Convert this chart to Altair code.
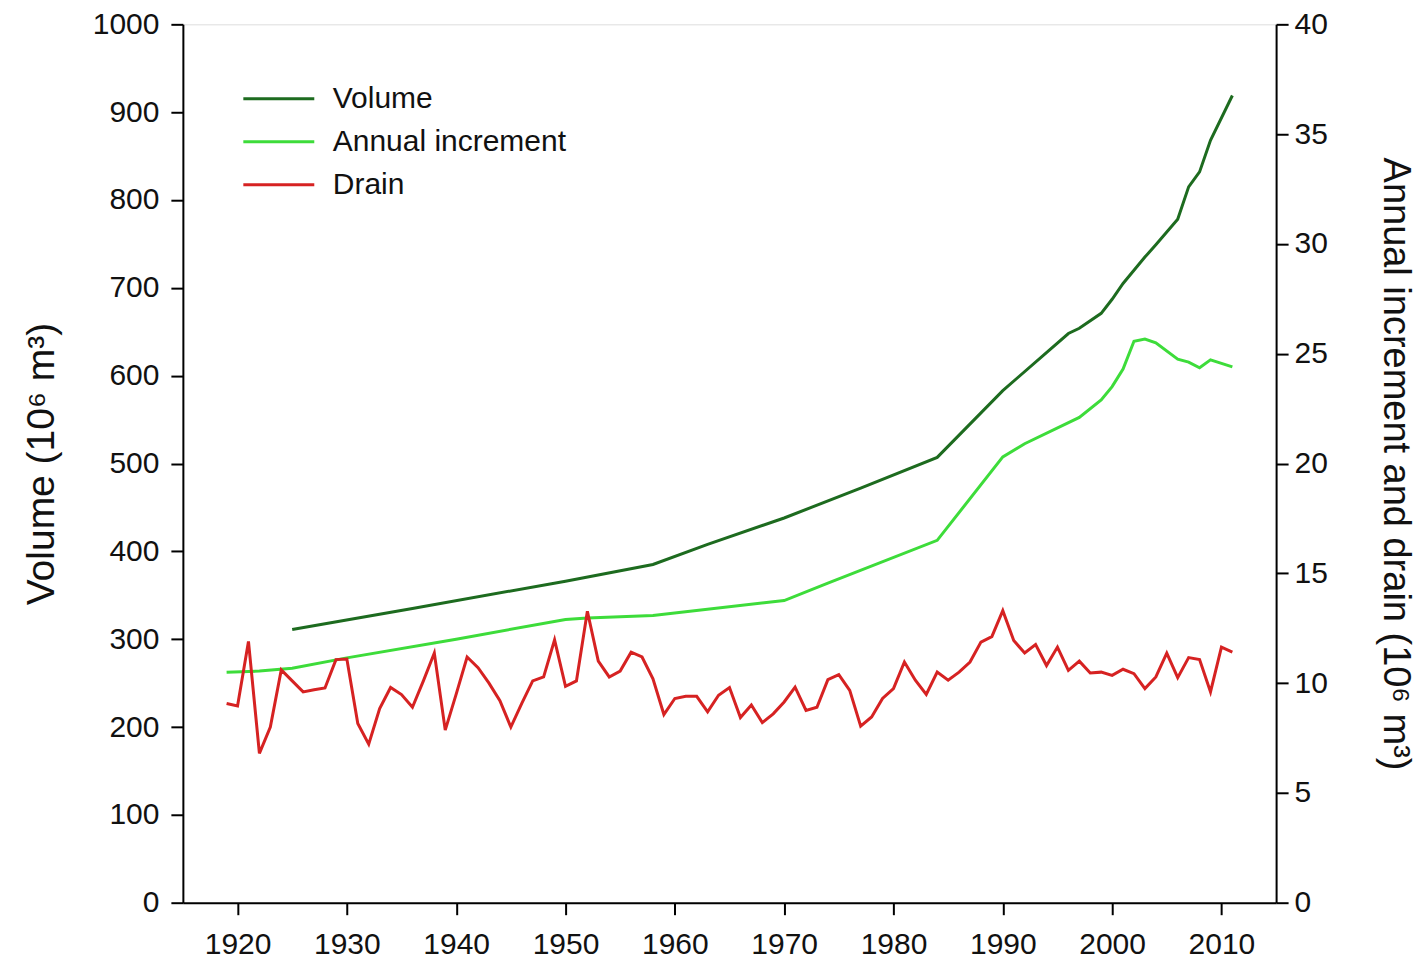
import altair as alt
import pandas as pd

# ---- data ----
drain_years = list(range(1919, 2012))
drain_values = [
    9.07, 8.96, 11.9, 6.8, 8.0, 10.6, 10.1, 9.6, 9.7, 9.78,      # 1919-1928
    11.07, 11.1, 8.16, 7.22, 8.84, 9.8, 9.48, 8.9, 10.1, 11.37,  # 1929-1938
    7.86, 9.5, 11.19, 10.7, 10.0, 9.2, 8.0, 9.08, 10.1, 10.28,   # 1939-1948
    11.97, 9.85, 10.1, 13.27, 11.0, 10.28, 10.55, 11.41, 11.19, 10.2,  # 1949-1958
    8.57, 9.3, 9.4, 9.4, 8.69, 9.45, 9.8, 8.43, 9.0, 8.2,        # 1959-1968
    8.6, 9.14, 9.82, 8.76, 8.9, 10.16, 10.39, 9.67, 8.04, 8.46,  # 1969-1978
    9.3, 9.75, 10.96, 10.13, 9.48, 10.5, 10.13, 10.5, 10.96, 11.87,  # 1979-1988
    12.12, 13.3, 11.94, 11.37, 11.76, 10.8, 11.64, 10.58, 11.0, 10.46,  # 1989-1998
    10.5, 10.35, 10.63, 10.43, 9.75, 10.28, 11.37, 10.25, 11.16, 11.07,  # 1999-2008
    9.6, 11.64, 11.41,                                           # 2009-2011
]

volume_years = [1925, 1936, 1950, 1958, 1963, 1970, 1977, 1984, 1990, 1996,
                1997, 1999, 2000, 2001, 2003, 2004, 2006, 2007, 2008, 2009, 2011]
volume_values = [311, 335, 366, 385, 408, 438, 472, 507, 583, 648,
                 654, 671, 687, 705, 735, 749, 778, 815, 832, 868, 919]

increment_years = [1919, 1922, 1925, 1930, 1940, 1950, 1952, 1958, 1970, 1974,
                   1984, 1990, 1992, 1997, 1999, 2000, 2001, 2002, 2003, 2004,
                   2006, 2007, 2008, 2009, 2011]
increment_values = [10.5, 10.55, 10.68, 11.15, 12.0, 12.9, 12.97, 13.08, 13.76, 14.55,
                    16.5, 20.3, 20.9, 22.1, 22.9, 23.5, 24.3, 25.57, 25.67, 25.5,
                    24.75, 24.62, 24.36, 24.72, 24.4]

series_names = ["Volume", "Annual increment", "Drain"]
series_colors = ["#1d6b1f", "#3ddc3a", "#d62222"]

x_ticks = list(range(1920, 2011, 10))
left_ticks = list(range(0, 1001, 100))
right_ticks = list(range(0, 41, 5))

# ---- tables ----
vol_df = pd.DataFrame({"year": volume_years, "value": volume_values, "series": "Volume"})
right_df = pd.concat([
    pd.DataFrame({"year": increment_years, "value": increment_values, "series": "Annual increment"}),
    pd.DataFrame({"year": drain_years, "value": drain_values, "series": "Drain"}),
])

FONT = "Liberation Sans"
PLOT_H = 879

x_enc = alt.X("year:Q",
              scale=alt.Scale(domain=[1915, 2015], nice=False, zero=False),
              axis=alt.Axis(values=x_ticks, format="d", title=None, grid=False,
                            tickSize=12, tickWidth=2, tickColor="black",
                            domainColor="black", domainWidth=2,
                            labelFontSize=30, labelFont=FONT, labelColor="#111",
                            labelPadding=15))

color_enc = alt.Color("series:N",
                      scale=alt.Scale(domain=series_names, range=series_colors),
                      sort=series_names,
                      legend=alt.Legend(title=None, orient="none", legendX=59, legendY=53,
                                        direction="vertical",
                                        symbolType="stroke", symbolSize=5041,
                                        symbolStrokeWidth=3, clipHeight=43,
                                        rowPadding=0, padding=0, labelOffset=17,
                                        labelFontSize=30, labelFont=FONT,
                                        labelColor="#111", labelLimit=400))

left = alt.Chart(vol_df).mark_line(strokeWidth=3).encode(
    x=x_enc,
    y=alt.Y("value:Q",
            scale=alt.Scale(domain=[0, 1000], nice=False),
            axis=alt.Axis(orient="left", values=left_ticks, format="d", grid=False,
                          title="Volume (10⁶ m³)", titleFont=FONT, titleFontSize=39,
                          titleFontWeight="normal", titleColor="#111",
                          titleAngle=-90, titleAlign="center", titleBaseline="middle",
                          titleX=-141, titleY=PLOT_H / 2,
                          tickSize=12, tickWidth=2, tickColor="black",
                          domainColor="black", domainWidth=2,
                          labelFontSize=30, labelFont=FONT, labelColor="#111",
                          labelPadding=12)),
    color=color_enc,
)

right = alt.Chart(right_df).mark_line(strokeWidth=3).encode(
    x=x_enc,
    y=alt.Y("value:Q",
            scale=alt.Scale(domain=[0, 40], nice=False),
            axis=alt.Axis(orient="right", values=right_ticks, format="d", grid=False,
                          title="Annual increment and drain (10⁶ m³)", titleFont=FONT,
                          titleFontSize=38, titleFontWeight="normal", titleColor="#111",
                          titleAngle=90, titleAlign="center", titleBaseline="middle",
                          titleX=118, titleY=PLOT_H / 2,
                          tickSize=12, tickWidth=2, tickColor="black",
                          domainColor="black", domainWidth=2,
                          labelFontSize=30, labelFont=FONT, labelColor="#111",
                          labelPadding=6)),
    color=color_enc,
    detail="series:N",
)

chart = alt.layer(left, right).resolve_scale(y="independent").properties(
    width=1094,
    height=PLOT_H,
    autosize=alt.AutoSizeParams(type="none"),
    padding={"left": 175, "top": 16, "right": 141, "bottom": 62},
).configure_view(stroke="black", strokeWidth=2).configure(background="white")

chart.save("out.html", embed_options={"renderer": "svg", "actions": False})
